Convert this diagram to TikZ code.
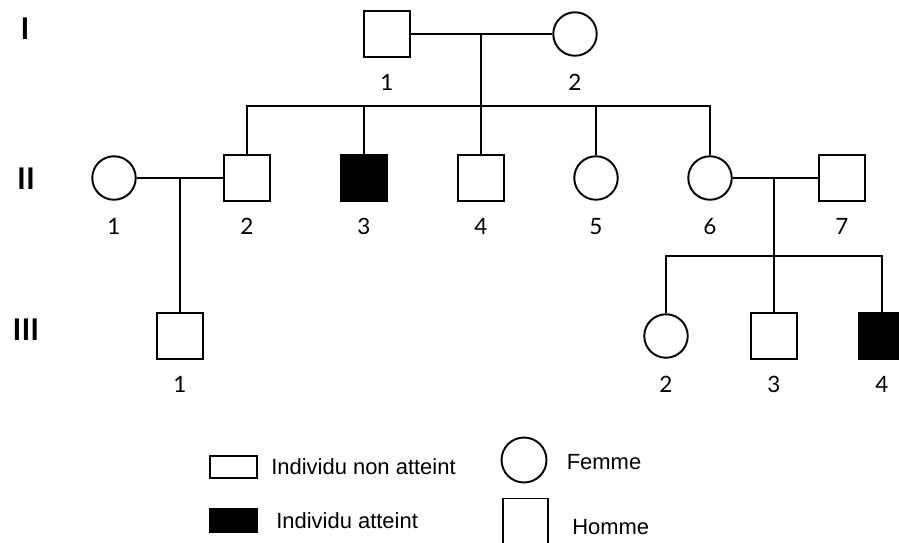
\documentclass[tikz,border=0pt]{standalone}
\usepackage{fontspec}
\setmainfont{Liberation Sans}
\newfontfamily\calfont{Lato}
\usetikzlibrary{positioning}

\tikzset{
  indiv/.style={draw=black, line width=1.1pt, inner sep=0pt},
  homme/.style={indiv, rectangle, minimum size=0.92cm},
  femme/.style={indiv, circle, minimum size=0.87cm},
  atteint/.style={fill=black},
  lien/.style={line width=1.1pt},
  num/.style={inner sep=0pt, text height=9pt, text depth=0pt, font=\calfont\fontsize{12.8}{15}\selectfont},
  gen/.style={inner sep=0pt, font=\calfont\bfseries\fontsize{17}{20}\selectfont},
  legtxt/.style={inner sep=0pt, anchor=west, font=\fontsize{12.5}{15}\selectfont}
}

\begin{document}
\begin{tikzpicture}[x=0.02cm, y=-0.02cm]
    \useasboundingbox (0,0) rectangle (899,542);

    % generations
    \node[gen] (gI) at (25,29) {I};
    \node[gen] (gII) at (26,179) {II};
    \node[gen] (gIII) at (26,330) {III};

    % individuals
    \node[homme] (i1) at (387,34) {};
    \node[femme] (i2) at (575,34) {};

    \node[femme] (ii1) at (114,178) {};
    \node[homme] (ii2) at (247,178) {};
    \node[homme, atteint] (ii3) at (364,178) {};
    \node[homme] (ii4) at (481,178) {};
    \node[femme] (ii5) at (596,178) {};
    \node[femme] (ii6) at (710,178) {};
    \node[homme] (ii7) at (842,178) {};

    \node[homme] (iii1) at (180,336) {};
    \node[femme] (iii2) at (666,336) {};
    \node[homme] (iii3) at (774,336) {};
    \node[homme, atteint] (iii4) at (882,336) {};

    % numbers under each individual
    \foreach \n/\t in {i1/1, i2/2, ii1/1, ii2/2, ii3/3, ii4/4, ii5/5, ii6/6, ii7/7, iii1/1, iii2/2, iii3/3, iii4/4}
        \node[num, below=0.8cm of \n.center] (\n-lab) {\t};

    % couples and children
    \coordinate (fr1) at (481,106);
    \coordinate (fr3) at (774,256);

    \draw[lien] (i1) -- (i2);
    \draw[lien] (ii4.north |- i1.east) -- (ii4.north);
    \draw[lien] (ii2.north) |- (fr1) -| (ii6.north);
    \draw[lien] (ii3.north |- fr1) -- (ii3.north);
    \draw[lien] (ii5.north |- fr1) -- (ii5.north);

    \draw[lien] (ii1) -- (ii2);
    \draw[lien] (iii1.north |- ii1.east) -- (iii1.north);

    \draw[lien] (ii6) -- (ii7);
    \draw[lien] (iii3.north |- ii6.east) -- (iii3.north);
    \draw[lien] (iii2.north) |- (fr3) -| (iii4.north);

    % legend
    \node[indiv, rectangle, minimum width=0.94cm, minimum height=0.44cm] (lnon) at (233.5,467) {};
    \node[legtxt, right=0.26cm of lnon] (lnon-txt) {Individu non atteint};
    \node[indiv, rectangle, atteint, minimum width=0.94cm, minimum height=0.46cm] (latt) at (233.5,520.5) {};
    \node[legtxt, right=0.36cm of latt] (latt-txt) {Individu atteint};

    \node[femme, minimum size=0.9cm] (lfem) at (524,460) {};
    \node[legtxt, right=0.38cm of lfem, yshift=-0.04cm] (lfem-txt) {Femme};
    \node[homme, minimum size=0.9cm] (lhom) at (525.5,521) {};
    \node[legtxt, right=0.46cm of lhom, yshift=-0.12cm] (lhom-txt) {Homme};
\end{tikzpicture}
\end{document}
